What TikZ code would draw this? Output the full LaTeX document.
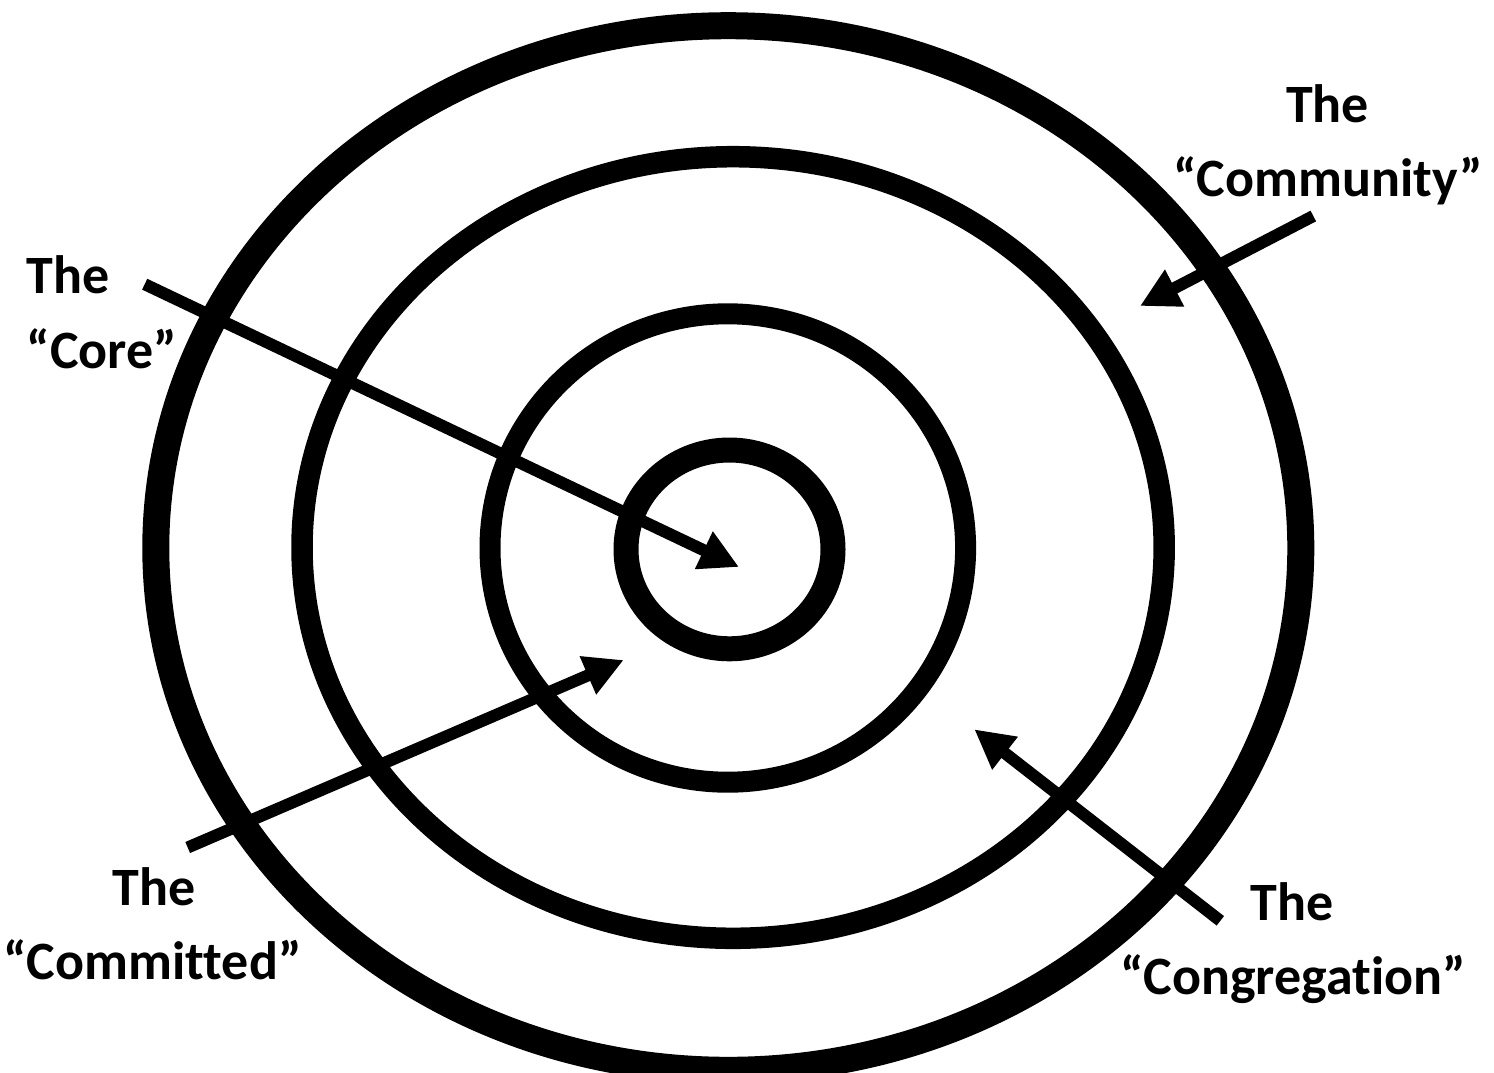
\documentclass[tikz,border=0pt]{standalone}
\usepackage{fontspec}
\setmainfont{Carlito}[Ligatures={NoCommon,NoContextual}]
\usetikzlibrary{arrows.meta}
\begin{document}
\begin{tikzpicture}[x=1pt,y=-1pt,
  ring/.style={draw=black},
  pointer/.style={draw=black, line width=12pt, -{Triangle[length=39pt,width=39pt]}},
  lbl/.style={inner sep=0pt, anchor=base, font=\fontsize{54pt}{65pt}\selectfont\bfseries}]
\path[use as bounding box] (0,0) rectangle (1494,1072);
\clip (0,0) rectangle (1494,1072);
% rings
\draw[ring, line width=27pt] (728.3,548) ellipse [x radius=572.5, y radius=522.3];
\draw[ring, line width=21.5pt] (733.1,547.5) ellipse [x radius=431.1, y radius=390.8];
\draw[ring, line width=21pt] (727.8,548) ellipse [x radius=237.8, y radius=234.2];
\draw[ring, line width=25pt] (729.5,549.4) ellipse [x radius=103.5, y radius=99.4];
% pointer ends
\coordinate (coreTail) at (144.7,284.2);
\coordinate (coreTip) at (739,567);
\coordinate (comtyTail) at (1313.3,216);
\coordinate (comtyTip) at (1140,306);
\coordinate (comtdTail) at (187.7,847.5);
\coordinate (comtdTip) at (623.7,660);
\coordinate (congTail) at (1220.3,920.8);
\coordinate (congTip) at (974.3,729.3);
\draw[pointer] (coreTail) -- (coreTip);
\draw[pointer] (comtyTail) -- (comtyTip);
\draw[pointer] (comtdTail) -- (comtdTip);
\draw[pointer] (congTail) -- (congTip);
% labels
\node[lbl] (coreThe) at (67.8,293.3) {The};
\node[lbl] (coreName) at (102,368.3) {“Core”};
\node[lbl] (comtyThe) at (1327.5,122.7) {The};
\node[lbl] (comtyName) at (1328.3,196) {“Community”};
\node[lbl] (comtdThe) at (154,905.5) {The};
\node[lbl] (comtdName) at (152.5,979) {“Committed”};
\node[lbl] (congThe) at (1292,920) {The};
\node[lbl] (congName) at (1293,994) {“Congregation”};
\end{tikzpicture}
\end{document}
